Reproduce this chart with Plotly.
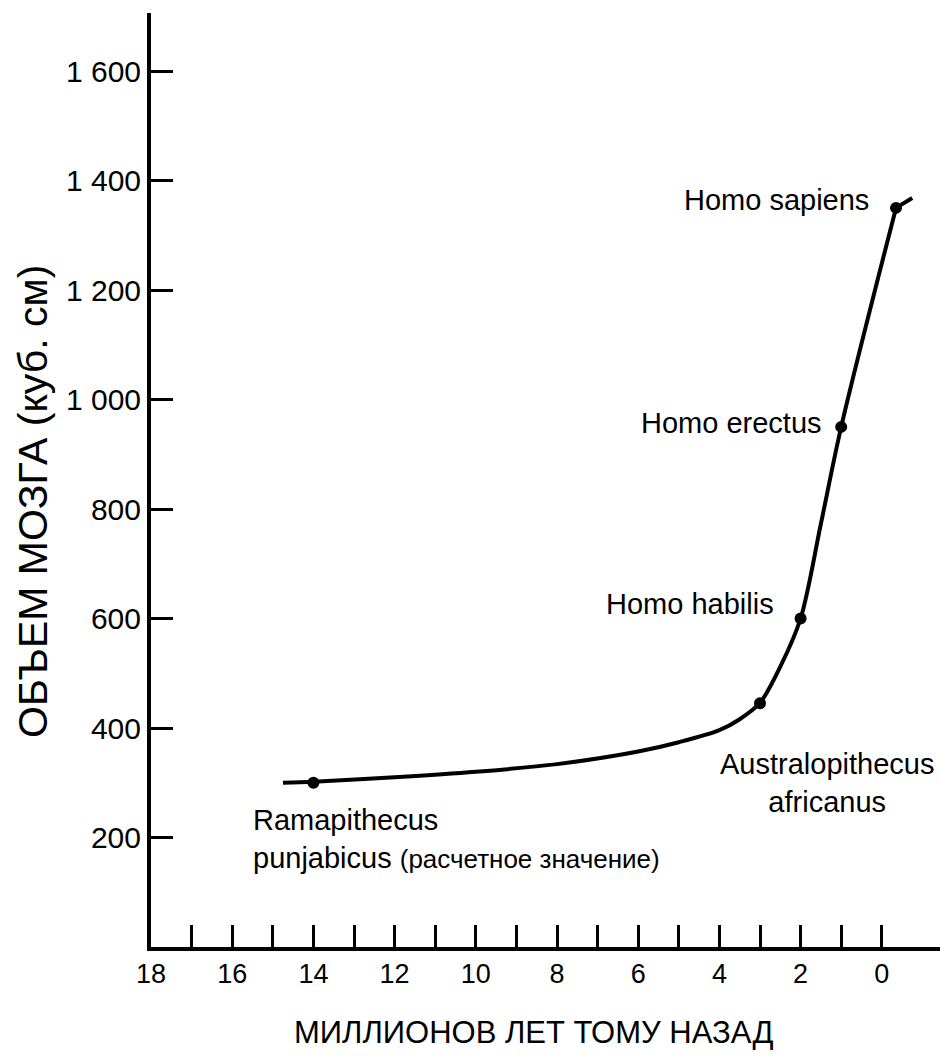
import plotly.graph_objects as go

# Fossil hominids: age (million years ago) and brain volume (cc)
species_age = [14, 3, 2, 1, -0.35]
species_cc = [300, 445, 600, 950, 1350]
species_label = [
    "Ramapithecus<br>punjabicus <span style='font-size:26px'>(расчетное значение)</span>",
    "Australopithecus<br>africanus",
    "Homo habilis",
    "Homo erectus",
    "Homo sapiens",
]
# Label placement relative to each point (anchor, shifts in px)
label_anchor = [
    ("left", "top", -62, -19),
    ("center", "top", 67, -43),
    ("right", "middle", -25, 15),
    ("right", "middle", -17, 4),
    ("right", "middle", -25, 8),
]

# Trend line traced along the growth of brain volume
curve_age = [14.75, 14, 12, 10, 8, 6, 5, 4, 3.5, 3, 2.5, 2, 1.5, 1.0, -0.35]
curve_cc = [300, 302, 310, 320, 334, 357, 374, 396, 416, 446, 512, 600, 773, 950, 1350]
# Short flattening tail past Homo sapiens
tail_age = [-0.35, -0.75]
tail_cc = [1350, 1368]

x_major = [18, 16, 14, 12, 10, 8, 6, 4, 2, 0]
x_minor = [17, 15, 13, 11, 9, 7, 5, 3, 1]
y_ticks = [200, 400, 600, 800, 1000, 1200, 1400, 1600]
y_ticktext = ["200", "400", "600", "800", "1 000", "1 200", "1 400", "1 600"]

FONT = "Liberation Sans, Arial, sans-serif"

fig = go.Figure()
fig.add_trace(go.Scatter(
    x=curve_age, y=curve_cc, mode="lines",
    line=dict(color="black", width=4, shape="spline", smoothing=0.9),
    hoverinfo="skip", showlegend=False,
))
fig.add_trace(go.Scatter(
    x=tail_age, y=tail_cc, mode="lines",
    line=dict(color="black", width=4),
    hoverinfo="skip", showlegend=False,
))
fig.add_trace(go.Scatter(
    x=species_age, y=species_cc, mode="markers",
    marker=dict(color="black", size=12),
    showlegend=False,
))

for xa, ya, txt, (xanc, yanc, dx, dy) in zip(species_age, species_cc, species_label, label_anchor):
    fig.add_annotation(
        x=xa, y=ya, xref="x", yref="y", text=txt, showarrow=False,
        xanchor=xanc, yanchor=yanc, xshift=dx, yshift=dy,
        align="center" if xanc == "center" else "left",
        font=dict(family=FONT, size=29, color="black"),
    )

W, H = 940, 1058
L, R, T, B = 151, 0, 13, 111
pw, ph = W - L - R, H - T - B


def paper_xy(px, py):
    """Pixel position on the page -> paper coordinates."""
    return (px - L) / pw, (H - B - py) / ph


# Axis titles
tx, ty = paper_xy(533, 1032)
fig.add_annotation(
    x=tx, y=ty, xref="paper", yref="paper", text="МИЛЛИОНОВ ЛЕТ ТОМУ НАЗАД",
    showarrow=False, xanchor="center", yanchor="middle",
    font=dict(family=FONT, size=31, color="black"),
)
tx, ty = paper_xy(33, 502)
fig.add_annotation(
    x=tx, y=ty, xref="paper", yref="paper", text="ОБЪЕМ МОЗГА (куб. см)",
    showarrow=False, textangle=-90, xanchor="center", yanchor="middle",
    font=dict(family=FONT, size=41, color="black"),
)

fig.update_layout(
    width=W, height=H,
    margin=dict(l=L, r=R, t=T, b=B, pad=0),
    plot_bgcolor="white", paper_bgcolor="white",
    font=dict(family=FONT, color="black"),
)
fig.update_xaxes(
    range=[18, 18 - pw / 40.6],
    showgrid=False, zeroline=False,
    showline=True, linecolor="black", linewidth=4,
    tickmode="array", tickvals=x_major, ticktext=[str(v) for v in x_major],
    ticks="inside", ticklen=22, tickwidth=3, tickcolor="black",
    tickfont=dict(family=FONT, size=27, color="black"),
    minor=dict(tickmode="array", tickvals=x_minor, ticks="inside",
               ticklen=22, tickwidth=3, tickcolor="black", showgrid=False),
)
fig.update_yaxes(
    range=[0, ph / 0.5475],
    showgrid=False, zeroline=False,
    showline=True, linecolor="black", linewidth=4,
    tickmode="array", tickvals=y_ticks, ticktext=y_ticktext,
    ticks="inside", ticklen=22, tickwidth=3, tickcolor="black",
    tickfont=dict(family=FONT, size=30, color="black"),
)

fig.write_html("out.html")
